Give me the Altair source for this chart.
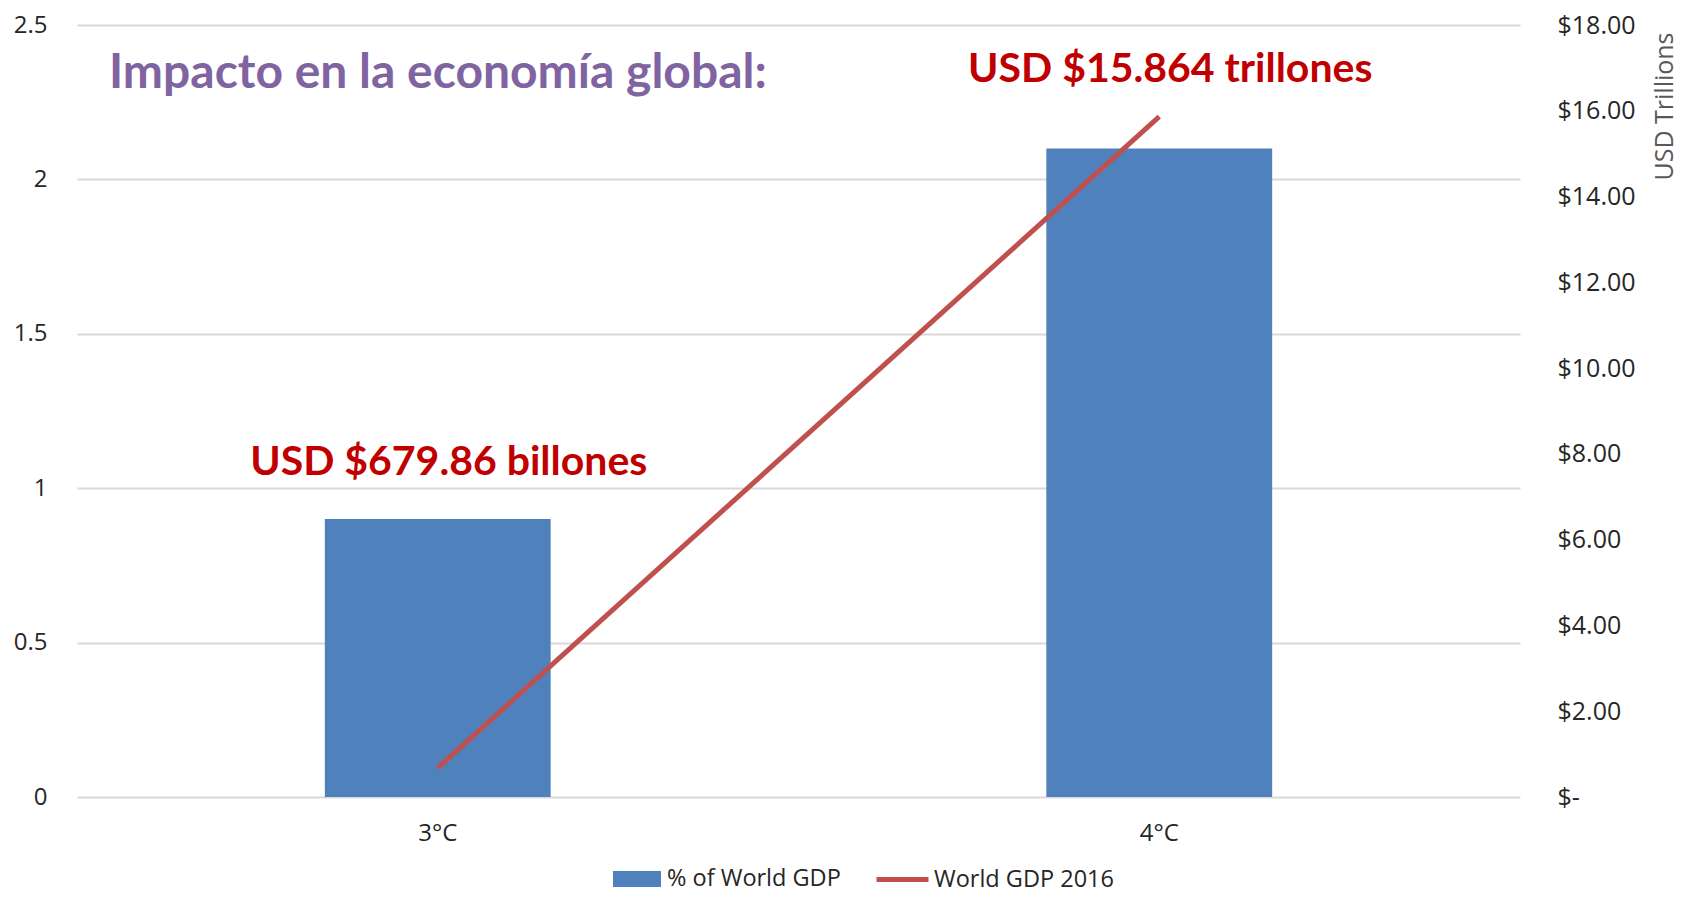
import altair as alt
import pandas as pd

categories = ["3°C", "4°C"]
pct_world_gdp = [0.9, 2.1]
world_gdp_2016 = [0.68, 15.864]

ann_text = ["USD $679.86 billones", "USD $15.864 trillones"]
ann_cat = ["3°C", "4°C"]
ann_y = [1.081, 2.354]

left_ticks = [0, 0.5, 1, 1.5, 2, 2.5]
right_ticks = [0, 2, 4, 6, 8, 10, 12, 14, 16, 18]

BLUE = "#4F81BD"
RED = "#C0504D"
GRID = "#D9D9D9"
FONT = "Open Sans"
BOLD_FONT = "Lato"

df = pd.DataFrame({
    "cat": categories,
    "pct": pct_world_gdp,
    "gdp": world_gdp_2016,
})
ann = pd.DataFrame({"text": ann_text, "cat": ann_cat, "y": ann_y})

x_enc = alt.X(
    "cat:N",
    sort=categories,
    scale=alt.Scale(paddingInner=0, paddingOuter=0),
    axis=alt.Axis(
        title=None, ticks=False, domain=False, grid=False, labelAngle=0,
        labelFontSize=24, labelFont=FONT, labelColor="#262626", labelPadding=24,
    ),
)

bars = alt.Chart(df).transform_calculate(series="'% of World GDP'").mark_bar(
    width={"band": 0.313}
).encode(
    x=x_enc,
    y=alt.Y(
        "pct:Q",
        scale=alt.Scale(domain=[0, 2.5], nice=False, zero=True),
        axis=alt.Axis(
            title=None, values=left_ticks, format="~g", ticks=False, domain=False,
            grid=True, gridColor=GRID, gridWidth=2,
            labelFontSize=24, labelFont=FONT, labelColor="#262626", labelPadding=30,
        ),
    ),
    fill=alt.Fill(
        "series:N",
        scale=alt.Scale(domain=["% of World GDP"], range=[BLUE]),
        legend=alt.Legend(
            title=None, orient="none", legendX=536, legendY=830,
            symbolType="M-1,-0.333H1V0.333H-1Z", symbolSize=2304,
            symbolStrokeWidth=0, labelFontSize=23.5, labelFont=FONT,
            labelColor="#262626", labelOffset=6, labelLimit=400,
        ),
    ),
)

line = alt.Chart(df).transform_calculate(series="'World GDP 2016'").mark_line(
    strokeWidth=5
).encode(
    x=alt.X("cat:N", sort=categories),
    y=alt.Y(
        "gdp:Q",
        scale=alt.Scale(domain=[0, 18], nice=False),
        axis=alt.Axis(
            orient="right", values=right_ticks, ticks=False, domain=False, grid=False,
            labelExpr="datum.value == 0 ? '$-' : '$' + format(datum.value, '.2f')",
            labelFontSize=25, labelFont=FONT, labelColor="#262626", labelPadding=37,
            title="USD Trillions", titleAngle=270, titleFontSize=25, titleFont=FONT,
            titleFontWeight="normal", titleColor="#595959",
            titleX=144, titleY=81, titleAlign="center", titleBaseline="middle",
        ),
    ),
    stroke=alt.Stroke(
        "series:N",
        scale=alt.Scale(domain=["World GDP 2016"], range=[RED]),
        legend=alt.Legend(
            title=None, orient="none", legendX=797, legendY=826,
            symbolType="stroke", symbolSize=2704, symbolStrokeWidth=5,
            labelFontSize=23.5, labelFont=FONT, labelColor="#262626", labelOffset=3,
            labelLimit=400,
        ),
    ),
)

texts = alt.Chart(ann).mark_text(
    font=BOLD_FONT, fontWeight="bold", fontSize=41, color="#C00000",
    align="center", baseline="middle", dx=11,
).encode(
    x=alt.X("cat:N", sort=categories),
    y=alt.Y("y:Q", scale=alt.Scale(domain=[0, 2.5], nice=False, zero=True), axis=None),
    text="text:N",
)

chart = alt.layer(bars, line, texts).resolve_scale(y="independent").properties(
    width=1443,
    height=772,
    padding={"left": 69, "top": 17, "right": 158, "bottom": 94},
    autosize=alt.AutoSizeParams(type="none"),
    title=alt.TitleParams(
        "Impacto en la economía global:", anchor="start", frame="group",
        font=BOLD_FONT, fontWeight="bold", fontSize=48, color="#8064A2",
        dx=32, dy=109, baseline="middle", offset=0,
    ),
).configure(background="white").configure_view(
    strokeWidth=0, strokeOpacity=0
).configure_axis(domain=False)

chart.save("out.html", embed_options={"renderer": "svg", "actions": False})
